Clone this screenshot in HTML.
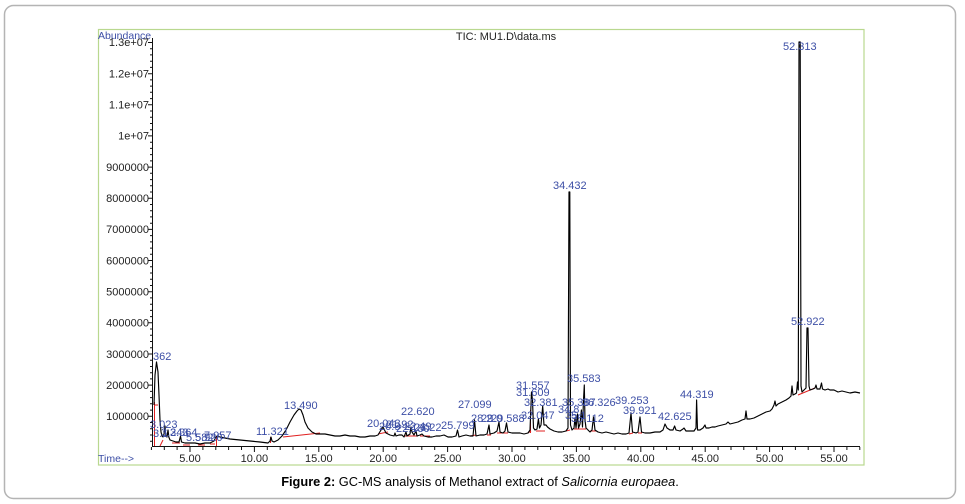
<!DOCTYPE html>
<html>
<head>
<meta charset="utf-8">
<style>
  html,body{margin:0;padding:0;background:#fff;}
  svg{display:block;}
  .tk{font-family:"Liberation Sans",Arial,sans-serif;font-size:11px;fill:#222;}
  .bl{font-family:"Liberation Sans",Arial,sans-serif;font-size:11px;fill:#3d4fa6;}
  .cap{font-family:"Liberation Sans",Arial,sans-serif;font-size:12.8px;fill:#000;}
</style>
</head>
<body>
<svg width="965" height="504" viewBox="0 0 965 504" xmlns="http://www.w3.org/2000/svg">
  <rect x="4.5" y="5.5" width="951" height="493" rx="9" ry="9" fill="#fff" stroke="#b4b4b4" stroke-width="1.5"/>
  <rect x="98.5" y="29.5" width="765.5" height="435.5" fill="#fff" stroke="#b9d88f" stroke-width="1.2"/>

  <text x="506" y="40" text-anchor="middle" class="tk" style="font-size:11px">TIC: MU1.D\data.ms</text>
  <text x="98" y="39" class="bl" style="font-size:10.5px">Abundance</text>
  <text x="98" y="462" class="bl" style="font-size:10.5px">Time--&gt;</text>

  <line x1="152.5" y1="38" x2="152.5" y2="447" stroke="#111" stroke-width="1"/>
  <line x1="152" y1="446.5" x2="860" y2="446.5" stroke="#111" stroke-width="1"/>

  <g stroke="#111" stroke-width="1">
    <path d="M148,42.5H152 M148,73.7H152 M148,104.8H152 M148,135.9H152 M148,167.1H152 M148,198.2H152 M148,229.4H152 M148,260.5H152 M148,291.7H152 M148,322.8H152 M148,354H152 M148,385.1H152 M148,416.3H152"/>
  </g>
  <g stroke="#111" stroke-width="1">
    <path d="M150,48.7H152 M150,54.9H152 M150,61.2H152 M150,67.4H152
             M150,79.9H152 M150,86.1H152 M150,92.3H152 M150,98.6H152
             M150,111H152 M150,117.3H152 M150,123.5H152 M150,129.7H152
             M150,142.2H152 M150,148.4H152 M150,154.6H152 M150,160.9H152
             M150,173.3H152 M150,179.6H152 M150,185.8H152 M150,192H152
             M150,204.5H152 M150,210.7H152 M150,216.9H152 M150,223.2H152
             M150,235.6H152 M150,241.9H152 M150,248.1H152 M150,254.3H152
             M150,266.8H152 M150,273H152 M150,279.2H152 M150,285.5H152
             M150,297.9H152 M150,304.2H152 M150,310.4H152 M150,316.6H152
             M150,329H152 M150,335.3H152 M150,341.5H152 M150,347.8H152
             M150,360.2H152 M150,366.5H152 M150,372.7H152 M150,378.9H152
             M150,391.4H152 M150,397.6H152 M150,403.8H152 M150,410.1H152
             M150,422.5H152 M150,428.8H152 M150,435H152 M150,441.2H152"/>
  </g>
  <g class="tk" text-anchor="end">
    <text x="149" y="46">1.3e+07</text>
    <text x="149" y="77.5">1.2e+07</text>
    <text x="149" y="108.5">1.1e+07</text>
    <text x="149" y="139.5">1e+07</text>
    <text x="149" y="171">9000000</text>
    <text x="149" y="202">8000000</text>
    <text x="149" y="233">7000000</text>
    <text x="149" y="264.5">6000000</text>
    <text x="149" y="295.5">5000000</text>
    <text x="149" y="326.5">4000000</text>
    <text x="149" y="358">3000000</text>
    <text x="149" y="389">2000000</text>
    <text x="149" y="420">1000000</text>
  </g>

  <g stroke="#111" stroke-width="1">
    <path d="M151.4,447V450 M164.3,447V450 M177.1,447V450 M190,447V452 M202.9,447V450 M215.8,447V450 M228.6,447V450 M241.5,447V450 M254.4,447V452
             M267.3,447V450 M280.2,447V450 M293,447V450 M305.9,447V450 M318.8,447V452 M331.7,447V450 M344.6,447V450 M357.4,447V450 M370.3,447V450 M383.2,447V452
             M396.1,447V450 M409,447V450 M421.8,447V450 M434.7,447V450 M447.6,447V452 M460.5,447V450 M473.4,447V450 M486.2,447V450 M499.1,447V450 M512,447V452
             M524.9,447V450 M537.8,447V450 M550.6,447V450 M563.5,447V450 M576.4,447V452 M589.3,447V450 M602.2,447V450 M615,447V450 M627.9,447V450 M640.8,447V452
             M653.7,447V450 M666.6,447V450 M679.4,447V450 M692.3,447V450 M705.2,447V452 M718.1,447V450 M731,447V450 M743.8,447V450 M756.7,447V450 M769.6,447V452
             M782.5,447V450 M795.4,447V450 M808.2,447V450 M821.1,447V450 M834,447V452 M846.9,447V450 M859.8,447V450"/>
  </g>
  <g class="tk" text-anchor="middle">
    <text x="190" y="462">5.00</text>
    <text x="254.4" y="462">10.00</text>
    <text x="318.8" y="462">15.00</text>
    <text x="383.2" y="462">20.00</text>
    <text x="447.6" y="462">25.00</text>
    <text x="512" y="462">30.00</text>
    <text x="576.4" y="462">35.00</text>
    <text x="640.8" y="462">40.00</text>
    <text x="705.2" y="462">45.00</text>
    <text x="769.6" y="462">50.00</text>
    <text x="834" y="462">55.00</text>
  </g>

  <g stroke="#e02020" stroke-width="1" fill="none">
    <path d="M154.5,446V402 M155,405H158 M160,446L163,440 M172,443H180 M183,445H190 M198,445H205 M210,444H215 M216.5,446V437
             M270.5,443V437 M283,437L320,433 M378,434L388,432 M405,436H418 M420,436H430 M470,436L476,435 M487,435H491
             M497,433L508,433 M528,433L531,431 M530.5,433V410 M536,431H545 M566,431L570,430 M574,429H586 M590,431H596
             M629,434L633,433 M638,433H642 M798,395L815,388"/>
  </g>

  <path fill="none" stroke="#000" stroke-width="1.15" stroke-linejoin="round" d="
  M154,405 L155,375 L156.5,362 L158,372 L159,395 L160,420 L161,432 L162,436 L163,437 L164,434 L165,426 L165.8,436 L167,437 L168,430 L168.8,437
  L170,440 L173,441 L176,442 L179,442 L180.5,436 L181.5,442 L185,443 L190,443 L195,443 L200,444 L205,443 L210,443 L214,441 L216,437 L217,436
  L220,437 L225,438 L230,439 L240,440 L250,441 L260,442 L268,443 L270,441 L271,437 L272,441 L274,442 L278,440 L282,436 L286,430 L290,422
  L294,415 L297,411 L299,409 L301,410 L303,415 L305,422 L308,428 L312,432 L316,434 L320,434 L325,434 L330,435 L335,436 L340,436 L345,435
  L350,436 L355,436 L360,437 L365,437 L370,436 L375,436 L378,435 L381,430 L383,427 L384,429 L386,433 L390,435 L394,436 L395,433 L396,436
  L399,435 L402,435 L404,437 L406,432 L407,436 L410,434 L411,427 L412,432 L414,435 L416,431 L417,436 L420,435 L422,434 L424,436 L428,437
  L432,437 L436,436 L440,436 L444,435 L448,437 L452,437 L456,436 L457.5,430 L459,437 L462,436 L466,435 L470,436 L473,436 L474.5,420 L476,436
  L480,435 L484,435 L487,434 L489,425 L490,434 L494,433 L497,431 L499,422 L500,432 L503,433 L505,431 L506.5,423 L508,432 L512,433 L516,433
  L520,433 L524,434 L528,433 L530,430 L531.5,392 L532.5,400 L533.5,428 L535,430 L537,429 L538.4,419 L539.5,428 L541,425 L542.7,406 L544,425
  L546,425 L547.5,427 L550,429 L554,431 L558,432 L562,432 L566,431 L568,428 L569,192 L569.8,192 L570.5,425 L572,430 L574,428 L575,418 L576,428
  L577.5,414 L578.5,428 L580,424 L581.4,410 L582.5,427 L583.5,400 L584.3,385 L585,420 L586,428 L588,430 L590,432 L592,430 L593.5,417 L595,430
  L598,432 L602,433 L606,432 L610,433 L614,434 L618,433 L622,434 L626,434 L629,433 L631,413 L632.5,432 L636,433 L638,432 L640,417 L641.5,432
  L645,433 L650,433 L655,432 L660,432 L663,430 L665,424 L667,428 L670,430 L673,430 L674.6,426 L676,430 L680,431 L683,429 L684,428 L686,431
  L690,431 L694,431 L696,428 L696.6,400 L697.5,430 L700,430 L703,428 L705,425 L706,428 L709,428 L712,427 L715,427 L718,426 L722,425 L726,424
  L728,422 L730,424 L734,423 L738,422 L742,420 L745,419 L746,411 L747,419 L750,419 L754,418 L758,416 L762,414 L766,412 L770,411 L772,409
  L774,405 L775,401 L776,406 L778,404 L782,402 L786,400 L789,398 L791,396 L792,386 L793,395 L795,394 L796.5,393 L797.5,382 L798.3,390
  L799,42 L800.2,42 L801,386 L802,392 L804,390 L806,388 L807,328 L808,328 L809,386 L810,390 L813,389 L815,388 L816,385 L817,389 L820,389
  L821.5,383 L822.5,389 L825,390 L828,389 L830,390 L834,390 L838,392 L842,391 L846,392 L850,393 L855,392 L860,393"/>

  <g class="bl">
    <text x="153" y="360">362</text>
    <text x="150" y="428">3.023</text>
    <text x="153" y="437">3.1</text>
    <text x="161" y="436">3.243</text>
    <text x="170" y="436">3.364</text>
    <text x="186" y="441">5.582</text>
    <text x="195" y="441">5.920</text>
    <text x="204" y="439">7.057</text>
    <text x="256" y="435">11.321</text>
    <text x="284" y="409">13.490</text>
    <text x="367" y="427">20.043</text>
    <text x="379" y="430">20.9</text>
    <text x="386" y="428">21.92</text>
    <text x="396" y="432">22.180</text>
    <text x="401" y="415">22.620</text>
    <text x="404" y="430">22.49</text>
    <text x="414" y="431">23.22</text>
    <text x="441" y="429">25.799</text>
    <text x="458" y="408">27.099</text>
    <text x="471" y="422">28.2</text>
    <text x="481" y="422">29.0</text>
    <text x="491" y="422">29.588</text>
    <text x="516" y="389">31.557</text>
    <text x="516" y="396">31.609</text>
    <text x="524" y="406">32.381</text>
    <text x="521" y="419">32.047</text>
    <text x="553" y="189">34.432</text>
    <text x="567" y="382">35.583</text>
    <text x="562" y="406">35.387</text>
    <text x="582" y="406">36.326</text>
    <text x="558" y="413">34.8</text>
    <text x="565" y="419">35.1</text>
    <text x="571" y="422">35.112</text>
    <text x="615" y="404">39.253</text>
    <text x="623" y="414">39.921</text>
    <text x="658" y="420">42.625</text>
    <text x="680" y="398">44.319</text>
    <text x="783" y="50">52.313</text>
    <text x="791" y="325">52.922</text>
  </g>

  <text x="480" y="486" text-anchor="middle" class="cap"><tspan font-weight="bold">Figure 2:</tspan> GC-MS analysis of Methanol extract of <tspan font-style="italic">Salicornia europaea</tspan>.</text>
</svg>
</body>
</html>
